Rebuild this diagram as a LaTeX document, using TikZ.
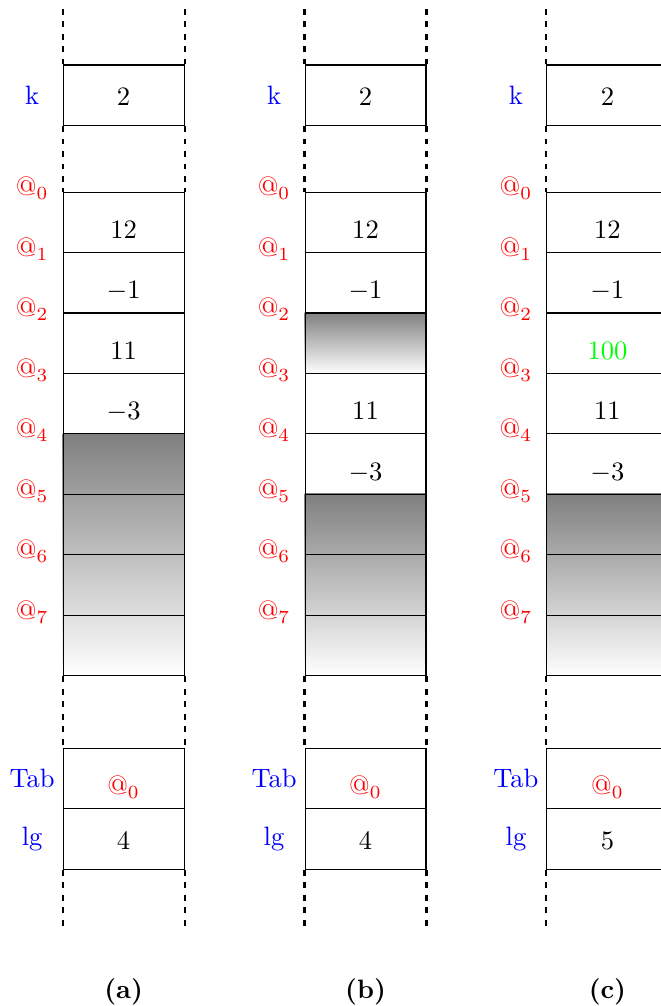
\documentclass[tikz,border=0pt]{standalone}
\usetikzlibrary{calc}
\pgfdeclarelayer{background}
\pgfsetlayers{background,main}
\definecolor{addrred}{RGB}{255,0,0}
\definecolor{varblue}{RGB}{0,0,255}
\definecolor{newgreen}{RGB}{0,255,0}
\tikzset{
  cell/.style={draw, line width=0.4pt, minimum width=1.6cm, minimum height=0.8cm,
    inner sep=0pt, text height=12pt, text depth=0pt},
  valbox/.style={draw, line width=0.4pt, minimum width=1.6cm, minimum height=0.8cm,
    inner sep=0pt, text height=8pt, text depth=0pt},
  dots/.style={line width=0.8pt, dash pattern=on 2.2pt off 2.5pt},
  addr/.style={text=addrred, anchor=base, inner sep=0pt},
  var/.style={text=varblue},
  shadefill/.style={top color=gray, bottom color=white, draw=none},
  caption/.style={font=\bfseries}
}
\newcommand\memcolumn[7]{%
  % #1 name, #2 left x, #3..#6 cell values 0..3, #7 lg value
  \node[valbox] (#1-k) at (#2+0.8,-1.26) {2};
  \node[var] (#1-klab) at (#2-0.41,-1.26) {k};
  \node[cell] (#1-0) at (#2+0.8,-2.94) {#3};
  \node[cell] (#1-1) at (#2+0.8,-3.74) {#4};
  \node[cell] (#1-2) at (#2+0.8,-4.54) {#5};
  \node[cell] (#1-3) at (#2+0.8,-5.34) {#6};
  \node[cell] (#1-4) at (#2+0.8,-6.14) {};
  \node[cell] (#1-5) at (#2+0.8,-6.94) {};
  \node[cell] (#1-6) at (#2+0.8,-7.74) {};
  \node[cell] (#1-7) at (#2+0.8,-8.54) {};
  \foreach \i in {0,...,7}{
    \node[addr] (#1-a\i) at (#2-0.41,{-2.54-0.8*\i-0.05}) {$@_{\i}$};
  }
  \node[cell] (#1-tab) at (#2+0.8,-10.3) {\textcolor{addrred}{$@_0$}};
  \node[var] (#1-tablab) at (#2-0.41,-10.3) {Tab};
  \node[valbox] (#1-lg) at (#2+0.8,-11.1) {#7};
  \node[var] (#1-lglab) at (#2-0.41,-11.1) {lg};
  \draw[dots] (#1-k.north west) -- ++(0,0.73);
  \draw[dots] (#1-k.north east) -- ++(0,0.73);
  \draw[dots] (#1-k.south west) -- (#1-0.north west);
  \draw[dots] (#1-k.south east) -- (#1-0.north east);
  \draw[dots] (#1-7.south west) -- (#1-tab.north west);
  \draw[dots] (#1-7.south east) -- (#1-tab.north east);
  \draw[dots] (#1-lg.south west) -- ++(0,-0.8);
  \draw[dots] (#1-lg.south east) -- ++(0,-0.8);
}
\begin{document}
\begin{tikzpicture}
  \useasboundingbox (0,0) rectangle (8.743,-13.307);
  \memcolumn{a}{0.835}{12}{$-1$}{11}{$-3$}{4}
  \memcolumn{b}{4.035}{12}{$-1$}{}{11}{4}
  \memcolumn{c}{7.235}{12}{$-1$}{\textcolor{newgreen}{100}}{11}{5}
  % values that sit in cells 4 of (b) and (c)
  \node (b-v4) at (b-4) [text height=12pt, text depth=0pt, minimum height=0.8cm, inner sep=0pt] {$-3$};
  \node (c-v4) at (c-4) [text height=12pt, text depth=0pt, minimum height=0.8cm, inner sep=0pt] {$-3$};
  \begin{pgfonlayer}{background}
    \shade[shadefill] (a-4.north west) rectangle (a-7.south east);
    \shade[shadefill] (b-2.north west) rectangle (b-2.south east);
    \shade[shadefill] (b-5.north west) rectangle (b-7.south east);
    \shade[shadefill] (c-5.north west) rectangle (c-7.south east);
  \end{pgfonlayer}
  \node[caption] (capa) at (1.635,-13.12) {(a)};
  \node[caption] (capb) at (4.835,-13.12) {(b)};
  \node[caption] (capc) at (8.035,-13.12) {(c)};
\end{tikzpicture}
\end{document}
